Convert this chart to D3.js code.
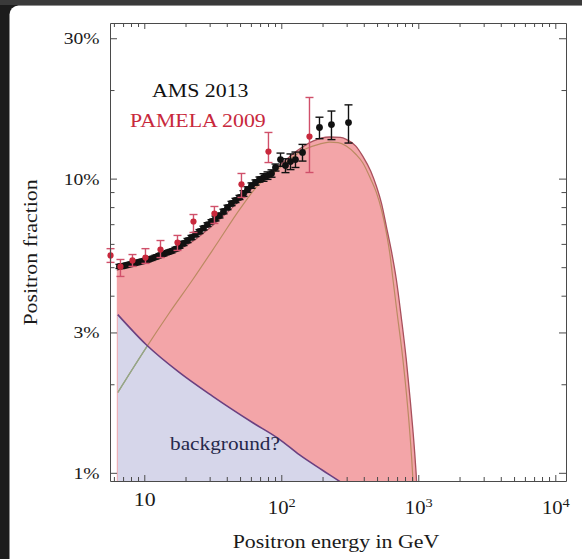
<!DOCTYPE html>
<html>
<head>
<meta charset="utf-8">
<script src="https://cdn.jsdelivr.net/npm/d3@7"></script>
<style>
  html, body { margin: 0; padding: 0; background: #1c1c1c; }
  svg { display: block; }
  text { font-family: "Liberation Serif", "Times New Roman", serif; }
</style>
</head>
<body>
<svg id="chart" width="582" height="559"></svg>
<script>
// Positron fraction versus energy: AMS 2013 and PAMELA 2009 measurements,
// a signal component peaking near a few hundred GeV, and the astrophysical background.

// ---- AMS 2013 (energy in GeV, fraction in %, symmetric error in %)
const amsEnergy = [6.59, 7.05, 7.54, 8.07, 8.63, 9.23, 9.87, 10.55, 11.29, 12.07, 12.91, 13.81,
  14.77, 15.80, 16.89, 18.07, 19.32, 20.67, 22.11, 23.64, 25.29, 27.05, 28.93, 30.94, 33.09,
  35.39, 37.86, 40.49, 43.31, 46.32, 49.54, 52.99, 56.68, 60.62, 64.83, 69.34, 74.17, 79.33,
  84.84, 90.74, 98.7, 107.3, 116.7, 126.9, 142.8, 190.0, 232.4, 309.4];
const amsFraction = [5.03, 5.05, 5.09, 5.13, 5.17, 5.21, 5.25, 5.29, 5.35, 5.41, 5.48, 5.54,
  5.61, 5.67, 5.76, 5.88, 6.02, 6.16, 6.31, 6.46, 6.61, 6.79, 6.98, 7.15, 7.32,
  7.49, 7.73, 7.98, 8.23, 8.43, 8.63, 8.90, 9.18, 9.47, 9.70, 9.93, 10.09, 10.24,
  10.41, 10.91, 11.61, 11.08, 11.43, 11.61, 12.27, 14.92, 15.27, 15.51];
const amsError = [0.08, 0.08, 0.08, 0.08, 0.08, 0.08, 0.08, 0.08, 0.08, 0.08, 0.08, 0.08,
  0.08, 0.08, 0.08, 0.08, 0.1, 0.1, 0.1, 0.1, 0.1, 0.1, 0.1, 0.1, 0.14,
  0.14, 0.14, 0.14, 0.14, 0.14, 0.14, 0.2, 0.2, 0.2, 0.2, 0.2, 0.3, 0.3,
  0.3, 0.3, 0.6, 0.6, 0.7, 0.7, 0.8, 1.25, 1.7, 2.3];

// ---- PAMELA 2009 (energy in GeV, fraction in %, lower / upper error bounds in %)
const pamelaEnergy = [5.67, 6.70, 8.20, 10.2, 13.13, 17.47, 22.86, 32.5, 51.2, 80.6, 160.6];
const pamelaFraction = [5.48, 5.02, 5.27, 5.39, 5.74, 6.06, 7.15, 7.61, 9.56, 12.36, 13.9];
const pamelaLow = [5.19, 4.65, 5.03, 5.15, 5.39, 5.70, 6.56, 7.04, 8.63, 11.34, 10.49];
const pamelaHigh = [5.78, 5.31, 5.52, 5.78, 6.16, 6.41, 7.55, 8.04, 10.41, 14.35, 18.87];

// ---- model curves (energy in GeV, fraction in %)
const totalEnergy = [6.3, 8, 10, 14, 18, 24, 30, 40, 50, 70, 97, 136, 170, 225, 270, 298,
  350, 394, 450, 494, 540, 584, 640, 691, 750, 817, 870, 913, 950, 975, 1000];
const totalFraction = [4.88, 5.05, 5.2, 5.45, 5.75, 6.25, 6.8, 7.65, 8.45, 9.8, 11.1, 12.6,
  13.4, 13.85, 13.8, 13.6, 12.9, 11.9, 10.6, 9.44, 8.2, 6.9, 5.6, 4.55, 3.4, 2.43, 1.8,
  1.40, 1.1, 0.9, 0.6];
const signalEnergy = [6.4, 10.3, 15, 22.6, 35, 50, 69.3, 85, 100, 120, 150, 190, 225, 260,
  298, 350, 394, 450, 494, 540, 584, 620, 653, 700, 772, 820, 864, 913, 940, 960];
const signalFraction = [1.875, 2.66, 3.46, 4.54, 6.15, 7.89, 9.6, 10.3, 11.0, 11.8, 12.6,
  13.1, 13.3, 13.25, 12.9, 12.1, 11.3, 9.95, 8.98, 7.8, 6.57, 5.55, 4.55, 3.5, 2.43, 1.85,
  1.40, 0.95, 0.7, 0.5];
const backgroundEnergy = [6.4, 10.3, 18.1, 31.6, 62, 97, 136, 200, 274, 320];
const backgroundFraction = [3.45, 2.73, 2.19, 1.82, 1.48, 1.30, 1.15, 1.02, 0.927, 0.88];

// ---- axes
const xTicks = [6, 7, 8, 9, 10, 20, 30, 40, 50, 60, 70, 80, 90, 100, 200, 300, 400, 500, 600,
  700, 800, 900, 1000, 2000, 3000, 4000, 5000, 6000, 7000, 8000, 9000, 10000];
const xLabelTicks = [10, 100, 1000, 10000];
const xLabels = ["10", "10^2", "10^3", "10^4"];
const yTicks = [1, 2, 3, 4, 5, 6, 7, 8, 9, 10, 20, 30];
const yLabelTicks = [1, 3, 10, 30];
const yLabels = ["1%", "3%", "10%", "30%"];
const xDomain = [5.62, 11970];
const yDomain = [0.938, 33.8];

// ---- layout / style
const W = 582, H = 559;
const frame = { left: 110, top: 23, width: 456, height: 458 };
const SERIF = "Liberation Serif, Times New Roman, serif";
const STRETCH = 1.15;
const colors = {
  frame: "#4a4a4a", pink: "#f3a5a8", blue: "#d6d6ea",
  total: "#a8505c", signal: "#bb8a62", signalLow: "#8eaa8c", background: "#6b4080",
  ams: "#111111", pamela: "#c8283c", pamelaBar: "#d0506a", label: "#1a1a1a"
};

const svg = d3.select("#chart");

// backdrop and white rounded panel
svg.append("rect").attr("width", W).attr("height", H).attr("fill", "#1c1c1c");
svg.append("rect").attr("width", W).attr("height", 5).attr("fill", "#3a3a3a");
svg.append("rect").attr("x", 9.5).attr("y", 5.5).attr("width", W + 20).attr("height", H + 20)
  .attr("rx", 9).attr("fill", "#ffffff");

const x = d3.scaleLog().domain(xDomain).range([0, frame.width]);
const y = d3.scaleLog().domain(yDomain).range([frame.height, 0]);

const g = svg.append("g").attr("transform", `translate(${frame.left},${frame.top})`);
const defs = svg.append("defs");
defs.append("clipPath").attr("id", "plot-clip")
  .append("rect").attr("width", frame.width).attr("height", frame.height);

const pairs = (es, fs) => es.map((e, i) => [e, fs[i]]);
const totalPts = pairs(totalEnergy, totalFraction);
const signalPts = pairs(signalEnergy, signalFraction);
const backgroundPts = pairs(backgroundEnergy, backgroundFraction);

const line = d3.line().x(d => x(d[0])).y(d => y(d[1])).curve(d3.curveMonotoneX);
const area = d3.area().x(d => x(d[0])).y0(frame.height).y1(d => y(d[1])).curve(d3.curveMonotoneX);

// region under the background curve, reused as a clip for the signal line
defs.append("clipPath").attr("id", "bg-clip")
  .append("path").attr("d", area(backgroundPts));

const curves = g.append("g").attr("clip-path", "url(#plot-clip)");
curves.append("path").attr("d", area(totalPts)).attr("fill", colors.pink);
curves.append("path").attr("d", area(backgroundPts)).attr("fill", colors.blue);
curves.append("path").attr("d", line(signalPts)).attr("fill", "none")
  .attr("stroke", colors.signal).attr("stroke-width", 1.2);
curves.append("g").attr("clip-path", "url(#bg-clip)")
  .append("path").attr("d", line(signalPts)).attr("fill", "none")
  .attr("stroke", colors.signalLow).attr("stroke-width", 1.2);
curves.append("path").attr("d", line(backgroundPts)).attr("fill", "none")
  .attr("stroke", colors.background).attr("stroke-width", 1.6);
curves.append("path").attr("d", line(totalPts)).attr("fill", "none")
  .attr("stroke", colors.total).attr("stroke-width", 1.3);

// error bars with caps
function errorBars(sel, data, color, cap) {
  const bar = sel.selectAll(null).data(data).enter().append("g")
    .attr("stroke", color).attr("stroke-width", 1.4);
  bar.append("line").attr("x1", d => x(d.e)).attr("x2", d => x(d.e))
    .attr("y1", d => y(d.lo)).attr("y2", d => y(d.hi));
  bar.append("line").attr("x1", d => x(d.e) - cap).attr("x2", d => x(d.e) + cap)
    .attr("y1", d => y(d.hi)).attr("y2", d => y(d.hi));
  bar.append("line").attr("x1", d => x(d.e) - cap).attr("x2", d => x(d.e) + cap)
    .attr("y1", d => y(d.lo)).attr("y2", d => y(d.lo));
}

const amsData = amsEnergy.map((e, i) => ({
  e, f: amsFraction[i], lo: amsFraction[i] - amsError[i], hi: amsFraction[i] + amsError[i]
}));
const pamelaData = pamelaEnergy.map((e, i) => ({
  e, f: pamelaFraction[i], lo: pamelaLow[i], hi: pamelaHigh[i]
}));

const amsG = g.append("g");
errorBars(amsG, amsData, colors.ams, 4);
amsG.selectAll("circle").data(amsData).enter().append("circle")
  .attr("cx", d => x(d.e)).attr("cy", d => y(d.f)).attr("r", 3.4).attr("fill", colors.ams);

const pamG = g.append("g");
errorBars(pamG, pamelaData, colors.pamelaBar, 4);
pamG.selectAll("circle").data(pamelaData).enter().append("circle")
  .attr("cx", d => x(d.e)).attr("cy", d => y(d.f)).attr("r", 3.1).attr("fill", colors.pamela);

// ---- frame axes (ticks pointing inward on all four sides)
function styleAxis(sel) {
  sel.attr("font-family", SERIF).attr("color", colors.frame);
  sel.selectAll("path.domain").attr("stroke-width", 1);
  sel.selectAll(".tick text").attr("fill", colors.label);
}
const yFmt = d => { const i = yLabelTicks.indexOf(d); return i >= 0 ? yLabels[i] : ""; };

const gBottom = g.append("g").attr("transform", `translate(0,${frame.height})`)
  .call(d3.axisBottom(x).tickValues(xTicks).tickSizeInner(-6).tickSizeOuter(0).tickFormat(() => ""));
gBottom.selectAll(".tick line").filter(d => !xLabelTicks.includes(d)).attr("y2", -4);
gBottom.selectAll(".tick text").filter(d => xLabelTicks.includes(d)).each(function (d) {
  const parts = xLabels[xLabelTicks.indexOf(d)].split("^");
  const t = d3.select(this).attr("dy", null).attr("transform", `scale(${STRETCH},1)`);
  if (parts.length === 1) {
    t.attr("y", 25.5).attr("font-size", 19).text(parts[0]);
  } else {
    t.attr("y", 33).attr("font-size", 18).text(parts[0]);
    t.append("tspan").attr("dy", -6.5).attr("font-size", 12.5).text(parts[1]);
  }
});
styleAxis(gBottom);

const gTop = g.append("g")
  .call(d3.axisTop(x).tickValues(xTicks).tickSizeInner(-6).tickSizeOuter(0).tickFormat(() => ""));
gTop.selectAll(".tick line").filter(d => !xLabelTicks.includes(d)).attr("y2", 4);
styleAxis(gTop);

const gLeft = g.append("g")
  .call(d3.axisLeft(y).tickValues(yTicks).tickSizeInner(-7).tickSizeOuter(0).tickPadding(10.5).tickFormat(yFmt));
gLeft.selectAll(".tick line").filter(d => !yLabelTicks.includes(d)).attr("x2", 4.5);
gLeft.attr("font-size", 17);
styleAxis(gLeft);

const gRight = g.append("g").attr("transform", `translate(${frame.width},0)`)
  .call(d3.axisRight(y).tickValues(yTicks).tickSizeInner(-7).tickSizeOuter(0).tickFormat(() => ""));
gRight.selectAll(".tick line").filter(d => !yLabelTicks.includes(d)).attr("x2", -4.5);
styleAxis(gRight);

// ---- texts
function stretch(sel) {
  sel.each(function () {
    const n = this.getComputedTextLength();
    if (n > 0) d3.select(this).attr("textLength", n * STRETCH).attr("lengthAdjust", "spacingAndGlyphs");
  });
}
stretch(gLeft.selectAll(".tick text").filter(d => yLabelTicks.includes(d)));

const texts = svg.append("g").attr("font-family", SERIF);
stretch(texts.append("text").attr("x", 152).attr("y", 96.5).attr("font-size", 19)
  .attr("fill", "#111").text("AMS 2013"));
stretch(texts.append("text").attr("x", 130).attr("y", 126.5).attr("font-size", 19)
  .attr("fill", colors.pamela).text("PAMELA 2009"));
stretch(texts.append("text").attr("x", 170).attr("y", 450).attr("font-size", 18.5)
  .attr("fill", "#26284a").text("background?"));
stretch(texts.append("text").attr("x", 336).attr("y", 548).attr("font-size", 19)
  .attr("text-anchor", "middle").attr("fill", colors.label).text("Positron energy in GeV"));
stretch(texts.append("text").attr("transform", "translate(37,252.5) rotate(-90)")
  .attr("font-size", 19).attr("text-anchor", "middle").attr("fill", colors.label)
  .text("Positron fraction"));
</script>
</body>
</html>
